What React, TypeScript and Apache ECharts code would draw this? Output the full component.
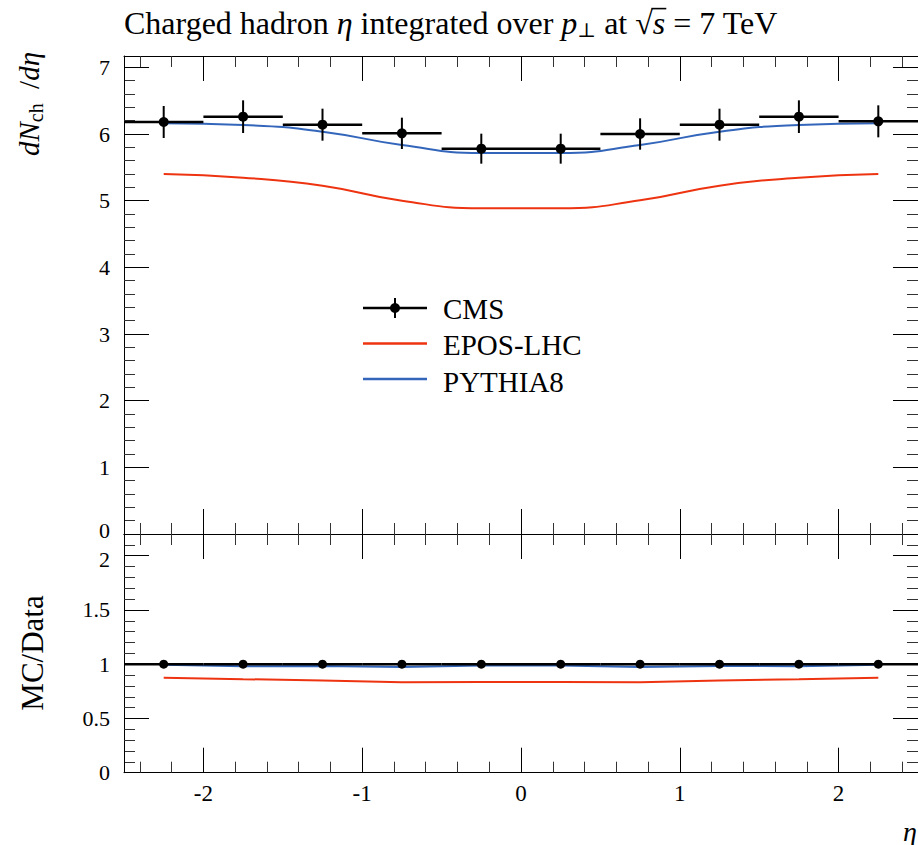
import React, { useEffect, useRef } from "react";
import * as echarts from "echarts";

const etaEdges = [-2.5, -2, -1.5, -1, -0.5, 0, 0.5, 1, 1.5, 2, 2.5];
const etaCenters = [-2.25, -1.75, -1.25, -0.75, -0.25, 0.25, 0.75, 1.25, 1.75, 2.25];
const cmsValues = [6.18, 6.26, 6.14, 6.01, 5.78, 5.78, 6.0, 6.14, 6.26, 6.19];
const cmsErrors = [0.24, 0.245, 0.24, 0.235, 0.225, 0.225, 0.235, 0.24, 0.245, 0.24];
const eposValues = [5.4, 5.345, 5.225, 5.0, 4.885, 4.885, 5.005, 5.225, 5.345, 5.4];
const pythiaValues = [6.16, 6.135, 6.035, 5.835, 5.715, 5.715, 5.835, 6.035, 6.135, 6.16];
const ratioCms = [1, 1, 1, 1, 1, 1, 1, 1, 1, 1];
const ratioEpos = [0.875, 0.862, 0.85, 0.834, 0.835, 0.835, 0.834, 0.85, 0.862, 0.875];
const ratioPythia = [0.995, 0.982, 0.983, 0.974, 0.989, 0.989, 0.974, 0.983, 0.982, 0.995];

const FONT = "'Liberation Serif', 'DejaVu Serif', serif";
const RED = "#ee3311";
const BLUE = "#3366bb";
const TITLE_FS = 32;
const TITLE_SUB_FS = 20;
const TITLE_LEFT = 124;
const TITLE_TOP = 6;
const LABEL_FS = 22;

export default function App() {
  const ref = useRef<HTMLDivElement>(null);
  useEffect(() => {
    if (!ref.current) return;
    const chart = echarts.init(ref.current, undefined, { renderer: "svg" });

    // measure text to place the overline of the square root in the title
    const ctx = document.createElement("canvas").getContext("2d") as CanvasRenderingContext2D;
    const nF = `${TITLE_FS}px ${FONT}`;
    const iF = `italic ${TITLE_FS}px ${FONT}`;
    const sF = `${TITLE_SUB_FS}px ${FONT}`;
    const mw = (t: string, f: string) => {
      ctx.font = f;
      return ctx.measureText(t).width;
    };
    const xSqrt =
      TITLE_LEFT +
      mw("Charged hadron ", nF) +
      mw("η", iF) +
      mw(" integrated over ", nF) +
      mw("p", iF) +
      mw("⊥", sF) +
      mw(" at ", nF);
    const wSqrt = mw("√", nF);
    const wS = mw("s", iF);
    ctx.font = nF;
    const ascSqrt = ctx.measureText("√").actualBoundingBoxAscent || TITLE_FS * 0.75;
    const lineH = Math.max(TITLE_FS, TITLE_SUB_FS + 14);
    const baseline = TITLE_TOP + lineH / 2 + TITLE_FS * 0.3375;
    const overY = baseline - ascSqrt + 0.8;

    const cmsData = etaCenters.map((x, i) => [x, cmsValues[i], cmsErrors[i], etaEdges[i], etaEdges[i + 1]]);
    const ratioData = etaCenters.map((x, i) => [x, ratioCms[i], 0, etaEdges[i], etaEdges[i + 1]]);

    const tickCommon = (len: number) => ({
      show: true,
      inside: true,
      length: len,
      lineStyle: { color: "#000", width: 1 },
    });
    const minorCommon = {
      show: true,
      splitNumber: 5,
      length: 11,
      lineStyle: { color: "#333", width: 1 },
    };
    const xBase = {
      type: "value",
      min: -2.5,
      max: 2.5,
      splitNumber: 5,
      splitLine: { show: false },
      axisLine: { show: true, onZero: false, lineStyle: { color: "#000", width: 1 } },
      axisTick: tickCommon(25),
      minorTick: { ...minorCommon },
      minorSplitLine: { show: false },
    };
    const yBase = {
      type: "value",
      min: 0,
      splitLine: { show: false },
      axisLine: { show: true, onZero: false, lineStyle: { color: "#000", width: 1 } },
      axisTick: tickCommon(25),
      minorTick: { ...minorCommon },
      minorSplitLine: { show: false },
    };
    const noLabel = { show: false };
    const labelRich = {
      up: { fontFamily: FONT, fontSize: LABEL_FS, color: "#000", padding: [0, 0, 8, 0] },
      down: { fontFamily: FONT, fontSize: LABEL_FS, color: "#000", padding: [8, 0, 0, 0] },
    };
    const yLabelTop = {
      show: true,
      margin: 14,
      fontFamily: FONT,
      fontSize: LABEL_FS,
      color: "#000",
      showMaxLabel: false,
      formatter: (v: number) => (v === 0 ? "{up|0}" : String(v)),
      rich: labelRich,
    };
    const yLabelBottom = {
      show: true,
      margin: 14,
      fontFamily: FONT,
      fontSize: LABEL_FS,
      color: "#000",
      showMaxLabel: false,
      formatter: (v: number) => (v === 2 ? "{down|2}" : String(v)),
      rich: labelRich,
    };

    const renderBins = (r: number, withErr: boolean) => (params: any, api: any) => {
      const x = api.value(0);
      const y = api.value(1);
      const e = api.value(2);
      const lo = api.value(3);
      const hi = api.value(4);
      const p = api.coord([x, y]);
      const pl = api.coord([lo, y]);
      const ph = api.coord([hi, y]);
      const children: any[] = [
        { type: "line", shape: { x1: pl[0], y1: p[1], x2: ph[0], y2: p[1] }, style: { stroke: "#000", lineWidth: 2.5 } },
      ];
      if (withErr) {
        const pt = api.coord([x, y + e]);
        const pb = api.coord([x, y - e]);
        children.push({ type: "line", shape: { x1: p[0], y1: pt[1], x2: p[0], y2: pb[1] }, style: { stroke: "#000", lineWidth: 2 } });
      }
      children.push({ type: "circle", shape: { cx: p[0], cy: p[1], r }, style: { fill: "#000" } });
      return { type: "group", children };
    };

    const option: any = {
      animation: false,
      textStyle: { fontFamily: FONT },
      title: {
        left: TITLE_LEFT,
        top: TITLE_TOP,
        padding: 0,
        text: "{n|Charged hadron }{i|η}{n| integrated over }{i|p}{s|⊥}{n| at }{n|√}{i|s}{n| = 7 TeV}",
        textStyle: {
          fontWeight: "normal",
          rich: {
            n: { fontFamily: FONT, fontSize: TITLE_FS, fontWeight: "normal", color: "#000" },
            i: { fontFamily: FONT, fontSize: TITLE_FS, fontWeight: "normal", fontStyle: "italic", color: "#000" },
            s: { fontFamily: FONT, fontSize: TITLE_SUB_FS, fontWeight: "normal", color: "#000", padding: [14, 0, 0, 0] },
          },
        },
      },
      grid: [
        { left: 124, top: 56, width: 796, height: 478 },
        { left: 124, top: 534, width: 796, height: 238.7 },
      ],
      xAxis: [
        { ...xBase, gridIndex: 0, position: "bottom", axisLabel: noLabel },
        { ...xBase, gridIndex: 0, position: "top", axisLabel: noLabel },
        {
          ...xBase,
          gridIndex: 1,
          position: "bottom",
          axisLabel: {
            show: true,
            margin: 9,
            fontFamily: FONT,
            fontSize: 23,
            color: "#000",
            showMinLabel: false,
            showMaxLabel: false,
          },
        },
        { ...xBase, gridIndex: 1, position: "top", axisLabel: noLabel },
      ],
      yAxis: [
        { ...yBase, gridIndex: 0, position: "left", max: 7.17, interval: 1, axisLabel: yLabelTop },
        { ...yBase, gridIndex: 0, position: "right", max: 7.17, interval: 1, axisLabel: noLabel },
        { ...yBase, gridIndex: 1, position: "left", max: 2.2, interval: 0.5, axisLabel: yLabelBottom },
        { ...yBase, gridIndex: 1, position: "right", max: 2.2, interval: 0.5, axisLabel: noLabel },
      ],
      series: [
        {
          name: "EPOS-LHC",
          type: "line",
          xAxisIndex: 0,
          yAxisIndex: 0,
          data: etaCenters.map((x, i) => [x, eposValues[i]]),
          smooth: 0.5,
          showSymbol: false,
          lineStyle: { color: RED, width: 2 },
          z: 2,
        },
        {
          name: "PYTHIA8",
          type: "line",
          xAxisIndex: 0,
          yAxisIndex: 0,
          data: etaCenters.map((x, i) => [x, pythiaValues[i]]),
          smooth: 0.5,
          showSymbol: false,
          lineStyle: { color: BLUE, width: 2 },
          z: 3,
        },
        {
          name: "CMS",
          type: "custom",
          xAxisIndex: 0,
          yAxisIndex: 0,
          data: cmsData,
          renderItem: renderBins(5, true),
          z: 5,
        },
        {
          name: "EPOS-LHC ratio",
          type: "line",
          xAxisIndex: 2,
          yAxisIndex: 2,
          data: etaCenters.map((x, i) => [x, ratioEpos[i]]),
          showSymbol: false,
          lineStyle: { color: RED, width: 2 },
          z: 2,
        },
        {
          name: "PYTHIA8 ratio",
          type: "line",
          xAxisIndex: 2,
          yAxisIndex: 2,
          data: etaCenters.map((x, i) => [x, ratioPythia[i]]),
          showSymbol: false,
          lineStyle: { color: BLUE, width: 2 },
          z: 3,
        },
        {
          name: "CMS ratio",
          type: "custom",
          xAxisIndex: 2,
          yAxisIndex: 2,
          data: ratioData,
          renderItem: renderBins(4.5, false),
          z: 5,
        },
      ],
      graphic: [
        {
          type: "line",
          shape: { x1: xSqrt + wSqrt - 1.5, y1: overY, x2: xSqrt + wSqrt + wS + 1, y2: overY },
          style: { stroke: "#000", lineWidth: 1.6 },
        },
        {
          type: "text",
          x: 29,
          y: 104,
          rotation: Math.PI / 2,
          style: {
            text: "{i|dN}{s|ch}{n|  /}{i|dη}",
            align: "center",
            verticalAlign: "middle",
            rich: {
              n: { fontFamily: FONT, fontSize: 29, fill: "#000" },
              i: { fontFamily: FONT, fontSize: 29, fontStyle: "italic", fill: "#000" },
              s: { fontFamily: FONT, fontSize: 20, fill: "#000", padding: [13, 0, 0, 0] },
            },
          },
        },
        {
          type: "text",
          x: 32,
          y: 653,
          rotation: Math.PI / 2,
          style: {
            text: "MC/Data",
            fontFamily: FONT,
            fontSize: 31,
            fill: "#000",
            align: "center",
            verticalAlign: "middle",
          },
        },
        {
          type: "text",
          x: 910,
          y: 831,
          style: {
            text: "η",
            fontFamily: FONT,
            fontSize: 28,
            fontStyle: "italic",
            fill: "#000",
            align: "center",
            verticalAlign: "middle",
          },
        },
        // legend
        { type: "line", shape: { x1: 363, y1: 308, x2: 427, y2: 308 }, style: { stroke: "#000", lineWidth: 2.5 } },
        { type: "line", shape: { x1: 395, y1: 298, x2: 395, y2: 318 }, style: { stroke: "#000", lineWidth: 2 } },
        { type: "circle", shape: { cx: 395, cy: 308, r: 5 }, style: { fill: "#000" } },
        {
          type: "text",
          x: 443,
          y: 309,
          style: { text: "CMS", fontFamily: FONT, fontSize: 29, fill: "#000", verticalAlign: "middle" },
        },
        { type: "line", shape: { x1: 363, y1: 343.5, x2: 427, y2: 343.5 }, style: { stroke: RED, lineWidth: 2.5 } },
        {
          type: "text",
          x: 443,
          y: 345,
          style: { text: "EPOS-LHC", fontFamily: FONT, fontSize: 29, fill: "#000", verticalAlign: "middle" },
        },
        { type: "line", shape: { x1: 363, y1: 379, x2: 427, y2: 379 }, style: { stroke: BLUE, lineWidth: 2.5 } },
        {
          type: "text",
          x: 443,
          y: 381.5,
          style: { text: "PYTHIA8", fontFamily: FONT, fontSize: 29, fill: "#000", verticalAlign: "middle" },
        },
      ],
    };

    chart.setOption(option);
    return () => chart.dispose();
  }, []);

  return (
    <div
      ref={ref}
      style={{ position: "fixed", left: 0, top: 0, width: 918, height: 845, background: "#fff" }}
    />
  );
}
